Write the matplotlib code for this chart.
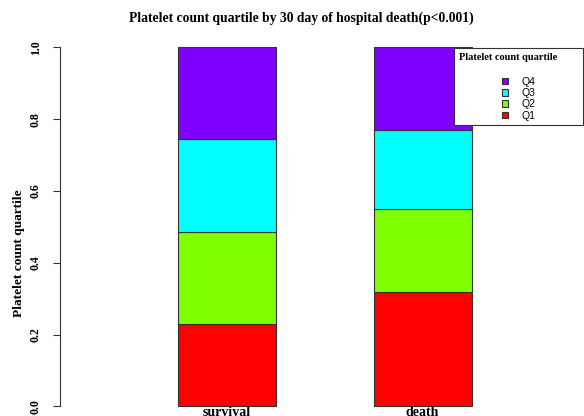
import matplotlib
matplotlib.use("Agg")
import matplotlib.pyplot as plt

# stacked proportions of platelet count quartiles within each outcome group
groups = ["survival", "death"]
quartiles = ["Q1", "Q2", "Q3", "Q4"]
q1 = [0.229, 0.318]
q2 = [0.257, 0.231]
q3 = [0.259, 0.220]
q4 = [0.255, 0.231]
colors = ["#FF0000", "#80FF00", "#00FFFF", "#8000FF"]

yticks = [0.0, 0.2, 0.4, 0.6, 0.8, 1.0]
serif = "Liberation Serif"

W, H = 584, 416
fig = plt.figure(figsize=(W / 100, H / 100), dpi=100)
ax = fig.add_axes([60 / W, 9.7 / H, (W - 60) / W, 359 / H])

x = [0, 1]
bottom = [0.0, 0.0]
bars = []
for vals, col in zip([q1, q2, q3, q4], colors):
    b = ax.bar(x, vals, width=0.5, bottom=bottom, color=col,
               edgecolor="#333333", linewidth=0.8, clip_on=False)
    bars.append(b)
    bottom = [b0 + v for b0, v in zip(bottom, vals)]

ax.set_xlim(-0.85, 1.823)
ax.set_ylim(0, 1)

for side in ["top", "right", "bottom"]:
    ax.spines[side].set_visible(False)
ax.spines["left"].set_color("#333333")
ax.spines["left"].set_linewidth(0.8)

ax.set_yticks(yticks)
ax.set_yticklabels([f"{t:.1f}" for t in yticks], rotation=90, va="center",
                   family=serif, fontweight="bold", fontsize=8.6)
ax.tick_params(axis="y", direction="out", length=5, width=0.8,
               color="#333333", pad=8)

ax.set_xticks(x)
ax.set_xticklabels(groups, family=serif, fontweight="bold", fontsize=10)
ax.tick_params(axis="x", length=0, pad=0)

fig.text(301.5 / W, 1 - 18 / H,
         "Platelet count quartile by 30 day of hospital death(p<0.001)",
         ha="center", va="center", family=serif, fontweight="bold",
         fontsize=9.8)
fig.text(19 / W, 1 - 253.5 / H, "Platelet count quartile", rotation=90,
         ha="center", va="center", family=serif, fontweight="bold",
         fontsize=9.6)

leg = ax.legend(bars[::-1], quartiles[::-1],
                title="Platelet count quartile        \n",
                loc="upper right", bbox_to_anchor=(583 / W, 1 - 48 / H),
                bbox_transform=fig.transFigure, borderaxespad=0,
                fancybox=False, framealpha=1, edgecolor="#333333",
                prop={"family": "Liberation Sans", "size": 7.5},
                title_fontproperties={"family": serif, "weight": "bold",
                                      "size": 7.5},
                handlelength=0.6, handleheight=0.6, handletextpad=1.3,
                labelspacing=0.12, borderpad=0.45, alignment="center")
leg.get_title().set_linespacing(1.7)
leg.get_frame().set_linewidth(0.8)

fig.savefig("out.png", dpi=100)
